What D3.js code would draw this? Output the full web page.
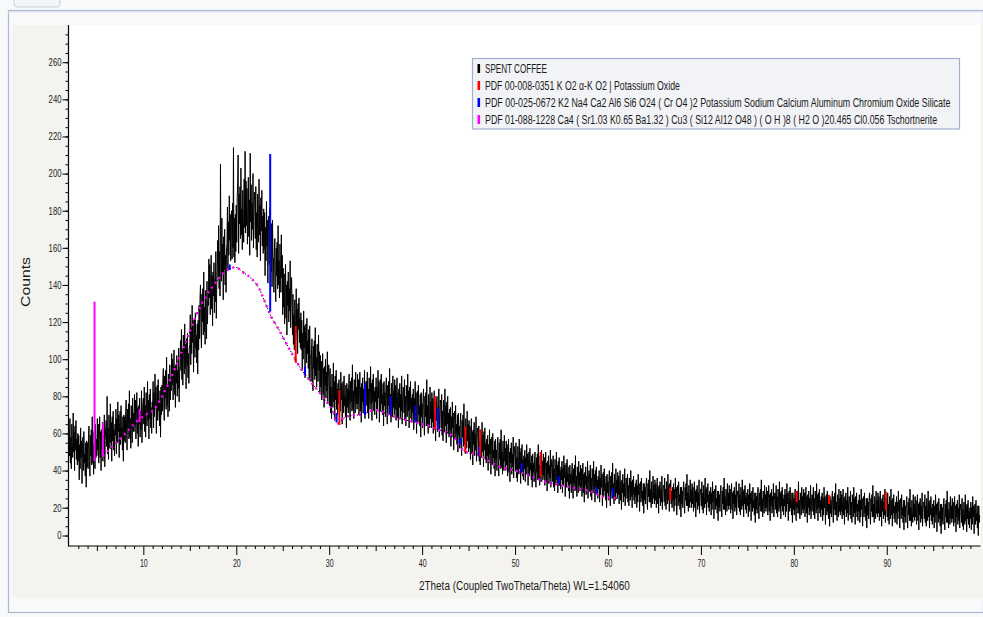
<!DOCTYPE html>
<html><head><meta charset="utf-8">
<script src="https://cdn.jsdelivr.net/npm/d3@7/dist/d3.min.js"></script>
<style>
body{margin:0;background:#f8f9fb;}
svg{display:block;}
text{font-family:"Liberation Sans",Arial,sans-serif;fill:#1a1a1a;}
</style>
</head><body>
<svg id="chart" width="983" height="617"></svg>
<script>
// ---- measurement grid (instrument step) ----
const twoThetaStart = 2;
const twoThetaStep = 0.05;

// ---- SPENT COFFEE counts, one row per degree (2.00 ... 99.95, then 100.00) ----
const counts = [
62,48,68,44,58,41,65,55,47,71,50,61,40,64,51,67,46,57,43,60,
45,59,35,54,41,63,47,56,33,52,58,40,61,44,49,37,55,31,56,42,
55,41,58,64,45,37,59,48,62,43,69,44,54,38,61,50,41,65,47,57,
48,68,51,65,44,58,69,47,61,40,62,52,66,45,59,49,70,42,56,63,
67,53,80,49,63,46,70,60,52,76,55,66,45,69,56,72,51,62,48,65,
59,73,49,68,55,77,61,70,47,66,72,54,75,58,63,51,69,45,70,56,
69,55,72,78,59,51,73,62,76,57,83,58,68,52,75,64,55,79,61,71,
61,81,64,78,57,71,82,60,74,53,75,65,79,58,72,62,83,55,69,76,
79,65,85,61,75,58,82,72,64,88,67,78,57,81,68,84,63,74,60,77,
73,88,63,82,69,92,75,85,60,80,86,67,89,72,77,64,83,58,85,70,
86,72,89,95,76,67,91,79,94,73,101,75,85,69,92,81,72,97,78,88,
83,103,86,100,78,93,105,81,96,74,97,87,102,80,94,84,106,77,91,99,
110,94,116,89,105,86,113,102,92,119,95,108,84,111,97,114,90,103,87,106,
108,124,97,117,103,129,109,121,93,116,122,101,125,106,113,98,119,92,121,105,
129,111,133,140,117,106,135,120,138,113,147,115,128,108,137,122,111,142,119,131,
129,154,133,151,124,142,156,127,145,118,147,134,152,125,143,131,158,122,140,149,
164,144,172,138,158,134,205,154,142,176,146,162,132,166,148,170,140,156,136,160,
162,182,148,174,156,188,164,178,153,172,180,154,184,160,214,155,176,152,178,158,
183,163,187,195,210,157,189,173,193,165,203,167,181,159,191,175,163,197,171,212,
168,196,172,192,162,182,198,166,186,156,211,174,194,164,184,170,200,160,180,190,
185,165,193,159,179,155,189,175,163,197,167,183,153,187,169,191,161,177,157,181,
159,179,145,171,153,185,161,175,141,169,177,151,181,157,165,147,173,139,175,155,
154,136,158,165,142,131,160,145,163,138,172,140,153,133,162,147,136,167,144,156,
124,149,128,146,119,137,151,122,140,113,142,129,147,120,138,126,153,117,135,144,
129,113,135,108,124,105,132,121,111,138,114,127,103,130,116,133,109,122,106,125,
105,121,94,114,100,126,106,118,90,113,119,98,122,103,110,95,116,89,118,102,
102,88,105,111,92,83,107,95,110,89,117,91,101,85,108,97,88,113,94,104,
82,102,85,99,78,92,103,81,95,74,96,86,100,79,93,83,104,76,90,97,
89,75,95,71,85,68,92,82,74,98,77,88,67,91,78,94,73,84,70,87,
76,89,67,84,72,93,78,87,65,83,88,71,91,75,80,69,86,63,87,74,
84,71,87,92,75,67,88,77,90,72,97,73,83,68,89,79,71,93,76,85,
73,92,76,89,70,83,93,72,85,66,87,77,90,71,84,75,94,68,81,88,
88,75,93,71,84,68,90,81,73,96,76,87,67,89,77,92,72,83,70,85,
77,90,68,85,73,94,79,88,66,84,89,72,92,76,81,70,87,64,88,75,
82,69,85,90,73,65,86,75,88,70,95,71,81,66,87,77,69,91,74,83,
70,89,73,86,67,80,90,69,82,63,84,74,87,68,81,72,91,65,78,85,
84,71,89,67,80,64,86,77,69,92,72,83,63,85,73,88,68,79,66,81,
71,84,62,79,67,88,73,82,60,78,83,66,86,70,75,64,81,58,82,69,
76,63,79,84,67,59,80,69,82,64,89,65,75,60,81,71,63,85,68,77,
63,82,66,79,60,73,83,62,75,56,77,67,80,61,74,65,84,58,71,78,
76,63,81,59,72,56,78,69,61,84,64,75,55,77,65,80,60,71,58,73,
62,74,53,69,58,77,63,71,51,68,72,57,75,60,65,54,70,50,71,59,
64,52,66,71,55,48,67,58,70,53,76,54,62,49,68,59,52,72,56,65,
50,67,52,64,46,58,68,49,61,43,62,54,66,48,60,51,69,45,57,63,
60,49,64,45,56,43,62,54,47,66,50,59,42,61,51,63,46,55,44,57,
48,59,40,54,44,62,49,57,38,53,58,43,60,47,51,41,56,37,57,46,
51,40,54,58,44,37,55,46,57,41,62,42,50,38,56,47,40,59,45,52,
40,56,43,54,37,48,57,39,50,34,52,44,55,38,49,42,58,36,47,53,
51,40,55,36,47,34,53,45,38,57,41,50,33,52,42,54,37,46,35,48,
41,51,34,47,38,54,42,49,32,46,50,37,52,40,44,35,48,31,49,39,
44,34,46,50,37,31,47,39,49,35,54,36,43,32,48,40,34,51,38,45,
35,49,37,47,32,42,50,34,44,29,45,38,48,33,43,36,51,31,41,46,
44,34,48,31,41,29,46,39,33,50,35,43,28,45,36,47,32,40,30,42,
35,45,28,41,32,48,36,43,26,40,44,31,46,34,38,29,42,25,43,33,
38,28,40,44,31,25,41,33,43,29,48,30,37,26,42,34,28,45,32,39,
29,43,31,41,26,36,44,28,38,23,39,32,42,27,37,30,45,25,35,40,
39,29,43,26,36,24,41,34,28,45,30,38,23,40,31,42,27,35,25,37,
30,40,23,36,27,43,31,38,21,35,39,26,41,29,33,24,37,20,38,28,
34,24,36,40,27,21,37,29,39,25,44,26,33,22,38,30,24,41,28,35,
25,39,27,37,22,32,40,24,34,19,35,28,38,23,33,26,41,21,31,36,
34,25,38,23,32,21,36,30,24,40,26,34,20,35,27,37,24,31,22,33,
26,35,20,32,23,38,27,33,18,31,34,23,36,25,29,21,33,17,33,24,
31,22,33,36,24,19,33,26,35,23,40,23,30,20,34,27,22,37,25,32,
22,35,24,33,20,29,36,22,31,17,32,25,34,21,30,23,37,19,28,32,
32,23,36,21,30,19,34,28,22,38,24,32,18,33,25,35,22,29,20,31,
24,33,18,30,21,36,25,31,16,29,32,21,34,23,27,19,31,15,31,22,
29,20,31,34,22,17,31,24,33,21,38,21,28,18,32,25,20,35,23,30,
20,33,22,31,18,27,34,20,29,15,30,23,32,19,28,21,35,17,26,30,
30,21,34,19,28,17,32,26,20,36,22,30,16,31,23,33,20,27,18,29,
22,31,16,28,19,34,23,29,14,27,30,19,32,21,25,17,29,13,29,20,
27,18,29,32,20,15,29,22,31,19,36,19,26,16,30,23,18,33,21,28,
19,32,21,30,17,26,33,19,28,14,29,22,31,18,27,20,34,16,25,29,
29,20,33,18,27,16,31,25,19,35,21,29,15,30,22,32,19,26,17,28,
21,30,15,27,18,33,22,28,13,26,29,18,31,20,24,16,28,12,28,19,
26,17,28,31,19,14,28,21,30,18,35,18,25,15,29,22,17,32,20,27,
18,31,20,29,16,25,32,18,27,13,28,21,30,17,26,19,33,15,24,28,
28,19,32,17,26,15,30,24,18,34,20,28,14,29,21,31,18,25,16,27,
21,30,15,27,18,33,22,28,13,26,29,18,31,20,24,16,28,12,28,19,
25,16,27,30,18,13,27,20,29,17,34,17,24,14,28,21,16,31,19,26,
17,30,19,28,15,24,31,17,26,12,27,20,29,16,25,18,32,14,23,27,
27,18,31,16,25,14,29,23,17,33,19,27,13,28,20,30,17,24,15,26,
19,28,13,25,16,31,20,26,11,24,27,16,29,18,22,14,26,10,26,17,
24,15,26,29,17,12,26,19,28,16,33,16,23,13,27,20,15,30,18,25,
16,29,18,27,14,23,30,16,25,11,26,19,28,15,24,17,31,13,22,26,
25,16,29,14,23,12,27,21,15,31,17,25,11,26,18,28,15,22,13,24,
18,27,12,24,15,30,19,25,10,23,26,15,28,17,21,13,25,9,25,16,
23,14,25,28,16,11,25,18,27,15,32,15,22,12,26,19,14,29,17,24,
15,28,17,26,13,22,29,15,24,10,25,18,27,14,23,16,30,12,21,25,
24,15,28,13,22,11,26,20,14,30,16,24,10,25,17,27,14,21,12,23,
17,26,11,23,14,29,18,24,9,22,25,14,27,16,20,12,24,8,24,15,
21,12,23,26,14,9,23,16,25,13,30,13,20,10,24,17,12,27,15,22,
13,26,15,24,11,20,27,13,22,8,23,16,25,12,21,14,28,10,19,23,
23,14,27,12,21,10,25,19,13,29,15,23,9,24,16,26,13,20,11,22,
15,24,9,21,12,27,16,22,7,20,23,12,25,14,18,10,22,6,22,13,
20,11,22,25,13,8,22,15,24,12,29,12,19,9,23,16,11,26,14,21,
12,25,14,23,10,19,26,12,21,7,22,15,24,11,20,13,27,9,18,22,
21,12,25,10,19,8,23,17,11,27,13,21,7,22,14,24,11,18,9,20,
14,23,8,20,11,26,15,21,6,19,22,11,24,13,17,9,21,5,21,12,
16
];

// ---- Tschortnerite profile (dotted curve): [2theta, counts] ----
const tschortneriteCurve = [
[5.6,48],[6.5,52],[7.8,58.6],[9.2,66],[10.2,70],[11.1,72.6],[12.1,80.7],[13.6,97.4],[14.7,111],
[15.8,125],[16.7,133.7],[17.75,141],[18.5,146],[19.2,148.5],[19.9,149.5],[20.8,146.6],[21.6,143.6],
[22.5,137.7],[23.0,131.9],[23.75,122.9],[24.5,116.6],[25.0,112],[26.0,103],[26.8,96],[28.0,87.9],
[29.3,79.8],[30.4,71.7],[30.9,65.5],[31.5,68],[32.1,69.4],[33.2,70],[35.0,72.6],[36.0,71],[37.2,68.7],
[39.6,65.5],[41.4,62.8],[43.5,57.4],[44.6,50.2],[46.1,48.4],[47.9,43],[50.4,39.4],[53.2,34],
[55.7,31.3],[58.2,28.6],[59.5,25.9],[61.0,25]
];

// ---- reference pattern sticks: [2theta, base counts, top counts] ----
const potassiumOxideSticks = [
[26.4,98,118],[31.1,64.5,83.4],[41.4,62,80],[44.65,50,63.6],[46.25,47.5,62],[52.75,36.7,50],
[66.7,24,31],[80.3,23,29],[83.8,22,27],[89.9,18.7,28.6]
];
const silicateSticks = [
[19.3,148,151],[23.65,125.6,210.5],[27.4,91.5,96],[30.8,66,71],[33.86,70,87],[36.6,70,80],
[39.3,66,75],[41.7,62,73.5],[44.1,54,57.5],[46.1,47.5,53],[50.7,39,44],[54.7,33,37],
[58.75,28,31],[60.5,26,30.5]
];
const tschortneriteSticks = [
[4.75,45,131],[5.65,47.5,65.8],[9.6,66,73]
];

// ---- axes ----
const xTickLabels = [10,20,30,40,50,60,70,80,90];
const yTickValues = [5,20,40,60,80,100,120,140,160,180,200,220,240,260];
const yTickLabels = ["0","20","40","60","80","100","120","140","160","180","200","220","240","260"];
const xTitle = "2Theta (Coupled TwoTheta/Theta) WL=1.54060";
const yTitle = "Counts";

// ---- legend ----
const legendNames = [
"SPENT COFFEE",
"PDF 00-008-0351 K O2 \u03b1-K O2 | Potassium Oxide",
"PDF 00-025-0672 K2 Na4 Ca2 Al6 Si6 O24 ( Cr O4 )2 Potassium Sodium Calcium Aluminum Chromium Oxide Silicate",
"PDF 01-088-1228 Ca4 ( Sr1.03 K0.65 Ba1.32 ) Cu3 ( Si12 Al12 O48 ) ( O H )8 ( H2 O )20.465 Cl0.056 Tschortnerite"
];
const legendColors = ["#000000","#ff0000","#0000ff","#ff00ff"];
const legendWidths = [62,195,466,453];

// ================= drawing =================
const svg = d3.select("#chart");
const W = 983, H = 617;
const plot = {left:68.5, right:980.5, top:25, bottom:546};

function condensed(sel, targetWidth){
  sel.each(function(){
    const n = this.getComputedTextLength();
    const s = n > 0 ? targetWidth / n : 1;
    const t = d3.select(this);
    t.attr("transform", (t.attr("data-base") || "") + ` scale(${s},1)`);
  });
}

// window chrome
svg.append("rect").attr("width",W).attr("height",H).attr("fill","#f8f9fb");
svg.append("path").attr("d","M14,0 L14,4 Q14,7 17,7 L57,7 Q60,7 60,4 L60,0")
  .attr("fill","#f4f5f7").attr("stroke","#c9ced8").attr("stroke-width",1);
svg.append("rect").attr("x",8.5).attr("y",10.5).attr("width",W-8).attr("height",602)
  .attr("fill","#f9f9fa").attr("stroke","#aab8d2").attr("stroke-width",1.2);
svg.append("line").attr("x1",8).attr("x2",W).attr("y1",12).attr("y2",12).attr("stroke","#d5deec");
svg.append("rect").attr("x",12).attr("y",25).attr("width",W-12).attr("height",573).attr("fill","#f4f3ef");
svg.append("rect").attr("x",plot.left).attr("y",plot.top).attr("width",plot.right-plot.left)
  .attr("height",plot.bottom-plot.top).attr("fill","#ffffff");

const x = d3.scaleLinear().domain([2,100]).range([69,979.7]);
const y = d3.scaleLinear().domain([0,280]).range([544.8,25.1]);

svg.append("defs").append("clipPath").attr("id","clip").append("rect")
  .attr("x",plot.left).attr("y",plot.top).attr("width",plot.right-plot.left).attr("height",plot.bottom-plot.top);

const g = svg.append("g").attr("clip-path","url(#clip)");

// main trace
const line = d3.line().x((d,i)=>x(twoThetaStart + i*twoThetaStep)).y(d=>y(d));
g.append("path").datum(counts).attr("d",line).attr("fill","none")
  .attr("stroke","#000").attr("stroke-width",1).attr("stroke-linejoin","round");

// tschortnerite dotted curve
const cl = d3.line().x(d=>x(d[0])).y(d=>y(d[1])).curve(d3.curveMonotoneX);
g.append("path").datum(tschortneriteCurve).attr("d",cl).attr("fill","none")
  .attr("stroke","#000").attr("stroke-width",1).attr("stroke-dasharray","1.5,2");
g.append("path").datum(tschortneriteCurve).attr("d",cl).attr("fill","none")
  .attr("stroke","#ff00ff").attr("stroke-width",2.4).attr("stroke-dasharray","2,4");

// sticks
function sticks(data,color){
  g.append("g").selectAll("line").data(data).join("line")
    .attr("x1",d=>x(d[0])).attr("x2",d=>x(d[0]))
    .attr("y1",d=>y(d[1])).attr("y2",d=>y(d[2]))
    .attr("stroke",color).attr("stroke-width",2);
}
sticks(silicateSticks,"#0000ff");
sticks(potassiumOxideSticks,"#ff0000");
sticks(tschortneriteSticks,"#ff00ff");

// axes
const yMinor = d3.range(5,280,5);
const yAx = svg.append("g").attr("transform",`translate(${plot.left},0)`);
yAx.call(d3.axisLeft(y).tickValues(yMinor).tickSize(3).tickFormat(""));
yAx.select(".domain").remove();
const yAxMaj = svg.append("g").attr("transform",`translate(${plot.left},0)`);
yAxMaj.call(d3.axisLeft(y).tickValues(yTickValues).tickSize(6).tickPadding(1).tickFormat((d,i)=>yTickLabels[i]));
yAxMaj.select(".domain").remove();
yAxMaj.selectAll("text").attr("font-size","10.5px")
  .attr("textLength",function(){return this.textContent.length*4.3;}).attr("lengthAdjust","spacingAndGlyphs")
  .attr("fill","#1a1a1a");

const xMinor = d3.range(3,100,1).filter(v=>v%5!==0);
const xMid = d3.range(5,100,10);
const xAx = svg.append("g").attr("transform",`translate(0,${plot.bottom})`);
xAx.call(d3.axisBottom(x).tickValues(xMinor).tickSize(3).tickFormat(""));
xAx.select(".domain").remove();
const xAxMid = svg.append("g").attr("transform",`translate(0,${plot.bottom})`);
xAxMid.call(d3.axisBottom(x).tickValues(xMid).tickSize(5).tickFormat(""));
xAxMid.select(".domain").remove();
const xAxMaj = svg.append("g").attr("transform",`translate(0,${plot.bottom})`);
xAxMaj.call(d3.axisBottom(x).tickValues(xTickLabels).tickSize(9).tickFormat(d3.format("d")));
xAxMaj.select(".domain").remove();
xAxMaj.selectAll("text").attr("font-size","11px").attr("y",13)
  .attr("textLength",function(){return this.textContent.length*3.9;}).attr("lengthAdjust","spacingAndGlyphs")
  .attr("fill","#1a1a1a");

svg.selectAll(".tick line").attr("stroke","#000");

svg.append("line").attr("x1",plot.left).attr("x2",plot.left).attr("y1",plot.top).attr("y2",plot.bottom+0.5)
  .attr("stroke","#000").attr("stroke-width",1.2);
svg.append("line").attr("x1",plot.left).attr("x2",plot.right).attr("y1",plot.bottom).attr("y2",plot.bottom)
  .attr("stroke","#000").attr("stroke-width",1.2);

// titles
svg.append("text").attr("data-base","translate(419,590)").attr("font-size","13.5px")
  .text(xTitle).call(condensed,211);
svg.append("text").attr("data-base","translate(30,282) rotate(-90)").attr("text-anchor","middle")
  .attr("font-size","13.5px").attr("fill","#2a2a2a").text(yTitle).call(condensed,50);

// legend
const lg = svg.append("g");
lg.append("rect").attr("x",472.5).attr("y",58.5).attr("width",487).attr("height",70.5)
  .attr("fill","#f2f3f6").attr("stroke","#9fb0cc").attr("stroke-width",1.2);
legendNames.forEach((name,i)=>{
  const by = 73 + i*17;
  lg.append("rect").attr("x",477.5).attr("y",by-9).attr("width",2.6).attr("height",9).attr("fill",legendColors[i]);
  lg.append("text").attr("data-base",`translate(485,${by})`).attr("font-size","12px")
    .text(name).call(condensed,legendWidths[i]);
});
</script>
</body></html>
